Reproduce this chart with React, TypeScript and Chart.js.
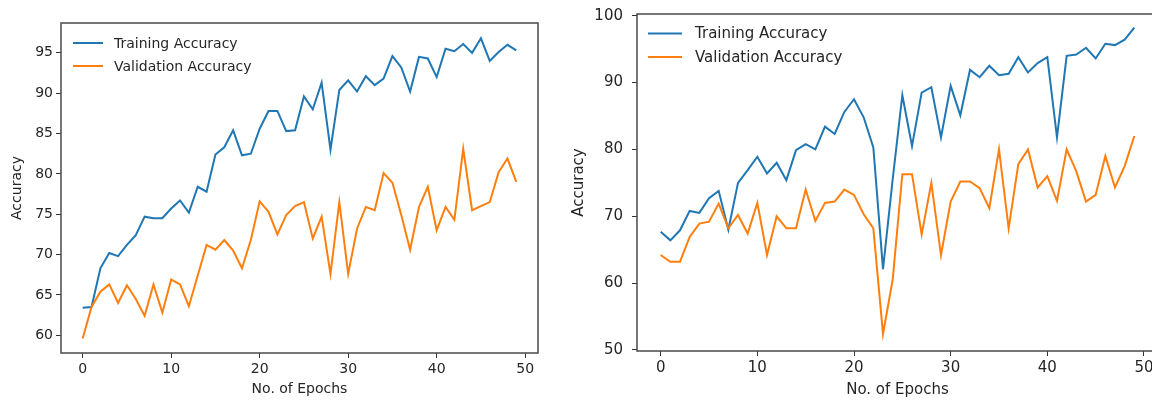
import React, { useEffect, useRef } from "react";
import { Chart, registerables } from "chart.js";

Chart.register(...registerables);

// ---------- data ----------
const epochs = Array.from({ length: 50 }, (_, i) => i);
const xTicks = [0, 10, 20, 30, 40, 50];
const leftYTicks = [60, 65, 70, 75, 80, 85, 90, 95];
const rightYTicks = [50, 60, 70, 80, 90, 100];
const seriesLabels = ["Training Accuracy", "Validation Accuracy"];
const xTitle = "No. of Epochs";
const yTitle = "Accuracy";

const leftTrain = [
  63.4, 63.5, 68.3, 70.2, 69.8, 71.2, 72.4, 74.7, 74.5, 74.5,
  75.7, 76.7, 75.2, 78.4, 77.8, 82.4, 83.3, 85.4, 82.3, 82.5,
  85.6, 87.8, 87.8, 85.3, 85.4, 89.6, 88.0, 91.3, 83.0, 90.4,
  91.6, 90.2, 92.1, 91.0, 91.8, 94.6, 93.2, 90.2, 94.5, 94.3,
  92.0, 95.5, 95.2, 96.1, 95.0, 96.8, 94.0, 95.1, 96.0, 95.3,
];
const leftVal = [
  59.6, 63.5, 65.4, 66.3, 64.0, 66.2, 64.5, 62.4, 66.3, 62.8,
  66.9, 66.3, 63.6, 67.4, 71.2, 70.6, 71.8, 70.5, 68.3, 71.8,
  76.6, 75.3, 72.5, 74.9, 76.0, 76.5, 72.0, 74.7, 67.6, 76.5,
  67.6, 73.2, 75.9, 75.5, 80.1, 78.9, 74.9, 70.6, 75.9, 78.4,
  73.0, 75.9, 74.3, 83.1, 75.5, 76.0, 76.5, 80.2, 81.9, 79.0,
];
const rightTrain = [
  67.7, 66.4, 67.9, 70.8, 70.5, 72.7, 73.8, 68.0, 75.0, 76.9,
  78.9, 76.4, 78.0, 75.4, 79.9, 80.8, 80.0, 83.4, 82.3, 85.6,
  87.5, 84.8, 80.3, 62.1, 75.5, 88.1, 80.5, 88.5, 89.3, 81.8,
  89.5, 85.1, 91.9, 90.8, 92.5, 91.1, 91.3, 93.8, 91.5, 92.9,
  93.8, 81.8, 94.0, 94.2, 95.2, 93.6, 95.8, 95.6, 96.4, 98.2,
];
const rightVal = [
  64.2, 63.2, 63.2, 66.9, 68.9, 69.2, 71.9, 68.2, 70.2, 67.4,
  72.0, 64.2, 70.0, 68.2, 68.2, 74.0, 69.3, 72.0, 72.2, 74.0,
  73.2, 70.3, 68.2, 52.4, 60.5, 76.3, 76.3, 67.3, 75.0, 64.2,
  72.2, 75.2, 75.2, 74.2, 71.2, 80.0, 68.2, 77.8, 80.0, 74.3,
  76.0, 72.3, 80.0, 76.7, 72.2, 73.2, 79.0, 74.3, 77.5, 82.0,
];

// ---------- styling ----------
const BLUE = "#1f77b4";
const ORANGE = "#ff7f0e";
const TEXT = "#262626";
const FRAME = "#4a4a4a";
const FAMILY = "'DejaVu Sans', 'Noto Sans', sans-serif";

type Params = {
  train: number[];
  val: number[];
  yTicks: number[];
  yMin: number;
  yMax: number;
  xMin: number;
  xMax: number;
  font: number;
  padTop: number;
  padRight: number;
  yW: number;
  xH: number;
  yTitlePad: number;
  xTitlePad: number;
  yTickPad: number;
  legX0: number;
  legX1: number;
  legTx: number;
  legY: number;
  legGap: number;
};

function zeroPad(s: any) {
  s.paddingTop = 0;
  s.paddingBottom = 0;
  s.paddingLeft = 0;
  s.paddingRight = 0;
}

function makeConfig(p: Params): any {
  const font = { family: FAMILY, size: p.font };
  const frame = {
    id: "frame",
    afterDraw(chart: any) {
      const { ctx, chartArea: a } = chart;
      ctx.save();
      ctx.strokeStyle = FRAME;
      ctx.lineWidth = 1.5;
      ctx.strokeRect(a.left, a.top, a.right - a.left, a.bottom - a.top);
      ctx.restore();
    },
  };
  const legend = {
    id: "innerLegend",
    afterDraw(chart: any) {
      const { ctx, chartArea: a } = chart;
      ctx.save();
      chart.data.datasets.forEach((ds: any, i: number) => {
        const y = a.top + p.legY + i * p.legGap;
        ctx.strokeStyle = ds.borderColor;
        ctx.lineWidth = 2;
        ctx.beginPath();
        ctx.moveTo(a.left + p.legX0, y);
        ctx.lineTo(a.left + p.legX1, y);
        ctx.stroke();
        ctx.fillStyle = TEXT;
        ctx.font = `${p.font}px ${FAMILY}`;
        ctx.textBaseline = "middle";
        ctx.textAlign = "left";
        ctx.fillText(ds.label, a.left + p.legTx, y + 1);
      });
      ctx.restore();
    },
  };
  const gridOpts = {
    drawOnChartArea: false,
    drawTicks: true,
    tickLength: 5,
    tickColor: "#333",
    tickWidth: 1,
  };
  return {
    type: "line",
    data: {
      datasets: [
        {
          label: seriesLabels[0],
          data: epochs.map((e, i) => ({ x: e, y: p.train[i] })),
          borderColor: BLUE,
          backgroundColor: BLUE,
          borderWidth: 2,
          pointRadius: 0,
          tension: 0,
          fill: false,
          order: 1,
        },
        {
          label: seriesLabels[1],
          data: epochs.map((e, i) => ({ x: e, y: p.val[i] })),
          borderColor: ORANGE,
          backgroundColor: ORANGE,
          borderWidth: 2,
          pointRadius: 0,
          tension: 0,
          fill: false,
          order: 0,
        },
      ],
    },
    options: {
      animation: false,
      responsive: false,
      events: [],
      layout: { padding: { top: p.padTop, right: p.padRight, left: 0, bottom: 0 } },
      plugins: { legend: { display: false }, tooltip: { enabled: false } },
      scales: {
        x: {
          type: "linear",
          min: p.xMin,
          max: p.xMax,
          afterBuildTicks: (s: any) => {
            s.ticks = xTicks.map((v) => ({ value: v }));
          },
          afterFit: (s: any) => {
            s.height = p.xH;
            zeroPad(s);
          },
          grid: gridOpts,
          border: { display: false },
          ticks: { color: TEXT, font, padding: 3, maxRotation: 0, autoSkip: false },
          title: {
            display: true,
            text: xTitle,
            color: TEXT,
            font,
            padding: { top: 0, bottom: p.xTitlePad },
          },
        },
        y: {
          type: "linear",
          min: p.yMin,
          max: p.yMax,
          afterBuildTicks: (s: any) => {
            s.ticks = p.yTicks.map((v) => ({ value: v }));
          },
          afterFit: (s: any) => {
            s.width = p.yW;
            zeroPad(s);
          },
          grid: gridOpts,
          border: { display: false },
          ticks: { color: TEXT, font, padding: p.yTickPad, autoSkip: false },
          title: {
            display: true,
            text: yTitle,
            color: TEXT,
            font,
            padding: { top: p.yTitlePad, bottom: 0 },
          },
        },
      },
    },
    plugins: [frame, legend],
  };
}

const leftParams: Params = {
  train: leftTrain,
  val: leftVal,
  yTicks: leftYTicks,
  yMin: 57.8,
  yMax: 98.7,
  xMin: -2.45,
  xMax: 51.45,
  font: 14,
  padTop: 23,
  padRight: 22,
  yW: 61,
  xH: 48,
  yTitlePad: 9,
  xTitlePad: 3,
  yTickPad: 3,
  legX0: 12,
  legX1: 42,
  legTx: 53,
  legY: 20,
  legGap: 23,
};

const rightParams: Params = {
  train: rightTrain,
  val: rightVal,
  yTicks: rightYTicks,
  yMin: 49.85,
  yMax: 100.25,
  xMin: -2.45,
  xMax: 51.45,
  font: 15,
  padTop: 14,
  padRight: 22,
  yW: 72,
  xH: 50,
  yTitlePad: 5,
  xTitlePad: 2,
  yTickPad: 9,
  legX0: 11,
  legX1: 45,
  legTx: 58,
  legY: 19.5,
  legGap: 23.4,
};

export default function App() {
  const leftRef = useRef<HTMLCanvasElement>(null);
  const rightRef = useRef<HTMLCanvasElement>(null);

  useEffect(() => {
    const c1 = new Chart(leftRef.current as HTMLCanvasElement, makeConfig(leftParams));
    const c2 = new Chart(rightRef.current as HTMLCanvasElement, makeConfig(rightParams));
    return () => {
      c1.destroy();
      c2.destroy();
    };
  }, []);

  return (
    <div
      style={{
        position: "absolute",
        left: 0,
        top: 0,
        width: 1152,
        height: 401,
        overflow: "hidden",
        background: "#ffffff",
      }}
    >
      <canvas
        ref={leftRef}
        width={560}
        height={401}
        style={{ position: "absolute", left: 0, top: 0, width: 560, height: 401 }}
      />
      <canvas
        ref={rightRef}
        width={615}
        height={401}
        style={{ position: "absolute", left: 565, top: 0, width: 615, height: 401 }}
      />
    </div>
  );
}
